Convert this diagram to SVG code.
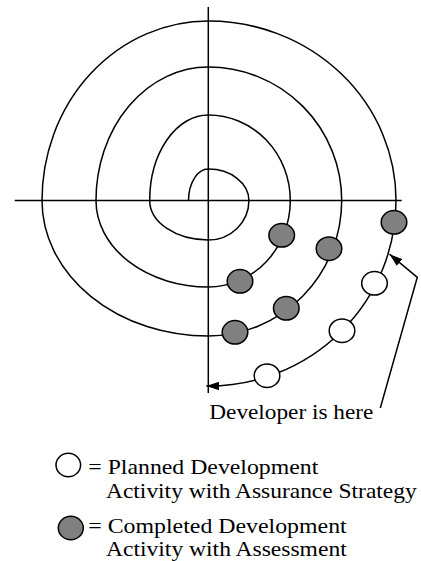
<svg xmlns="http://www.w3.org/2000/svg" width="421" height="561" viewBox="0 0 421 561">
  <style>
    .ln { fill: none; stroke: #000; stroke-width: 1.5; }
    .act { stroke: #000; stroke-width: 1.5; }
    .done { fill: #808080; }
    .plan { fill: #fff; }
    .lbl { font-family: "Liberation Serif", "Times New Roman", serif; font-size: 21px; fill: #000; }
  </style>
  <defs>
    <marker id="head" markerUnits="userSpaceOnUse" markerWidth="13" markerHeight="9" viewBox="0 0 12 8" refX="12" refY="4" orient="auto">
      <path d="M0,0 L12,4 L0,8 z" fill="#000"/>
    </marker>
  </defs>

  <!-- axes -->
  <g id="axes">
    <line class="ln" x1="14.7" y1="200.5" x2="401.7" y2="200.5"/>
    <line class="ln" x1="208.3" y1="7" x2="208.3" y2="393"/>
  </g>

  <!-- connectors: development spiral and pointer -->
  <g id="connectors">
    <path id="spiral" class="ln" marker-end="url(#head)" d="M 188.5 200.5
      A 19.8 31.4 0 0 1 208.3 169.1
      A 40.6 31.4 0 0 1 248.9 200.5
      A 40.6 39.5 0 0 1 208.3 240
      A 58.6 39.5 0 0 1 149.7 200.5
      A 58.6 85.5 0 0 1 208.3 115
      A 82 85.5 0 0 1 290.3 200.5
      A 82 86.5 0 0 1 208.3 287
      A 112.3 86.5 0 0 1 96 200.5
      A 112.3 133.5 0 0 1 208.3 67
      A 133.4 133.5 0 0 1 341.7 200.5
      A 133.4 135.5 0 0 1 208.3 336
      A 166.3 135.5 0 0 1 42 200.5
      A 166.3 179.5 0 0 1 208.3 21
      A 187.7 179.5 0 0 1 396 200.5
      A 187.7 185.5 0 0 1 208.3 386
      L 206.3 386"/>
    <path id="pointer" class="ln" marker-end="url(#head)" d="M 380.3 408 L 417.3 277.3 L 389.5 254.2"/>
  </g>

  <!-- completed activities -->
  <g id="done-1"><ellipse class="act done" cx="281.7" cy="235.3" rx="12.8" ry="11.8"/></g>
  <g id="done-2"><ellipse class="act done" cx="240" cy="281.3" rx="12.8" ry="11.8"/></g>
  <g id="done-3"><ellipse class="act done" cx="329" cy="248.7" rx="12.8" ry="11.8"/></g>
  <g id="done-4"><ellipse class="act done" cx="286.3" cy="308.3" rx="12.8" ry="11.8"/></g>
  <g id="done-5"><ellipse class="act done" cx="235" cy="332.3" rx="12.8" ry="11.8"/></g>
  <g id="done-6"><ellipse class="act done" cx="394" cy="222.3" rx="12.8" ry="11.8"/></g>

  <!-- planned activities -->
  <g id="plan-1"><ellipse class="act plan" cx="374.5" cy="283.3" rx="12.8" ry="11.8"/></g>
  <g id="plan-2"><ellipse class="act plan" cx="342" cy="330.7" rx="12.8" ry="11.8"/></g>
  <g id="plan-3"><ellipse class="act plan" cx="267" cy="375.7" rx="12.8" ry="11.8"/></g>

  <!-- pointer label -->
  <g id="here-label">
    <text class="lbl" x="209.3" y="419" textLength="164" lengthAdjust="spacingAndGlyphs">Developer is here</text>
  </g>

  <!-- legend -->
  <g id="legend-planned">
    <ellipse class="act plan" cx="68.3" cy="465" rx="12.3" ry="11.7"/>
    <text class="lbl" x="88.3" y="473.8" textLength="230" lengthAdjust="spacingAndGlyphs">= Planned Development</text>
    <text class="lbl" x="106" y="497.8" textLength="310.7" lengthAdjust="spacingAndGlyphs">Activity with Assurance Strategy</text>
  </g>
  <g id="legend-completed">
    <ellipse class="act done" cx="70.8" cy="528" rx="12.5" ry="11.7"/>
    <text class="lbl" x="88.3" y="533" textLength="258.4" lengthAdjust="spacingAndGlyphs">= Completed Development</text>
    <text class="lbl" x="106" y="556.3" textLength="240.7" lengthAdjust="spacingAndGlyphs">Activity with Assessment</text>
  </g>
</svg>
